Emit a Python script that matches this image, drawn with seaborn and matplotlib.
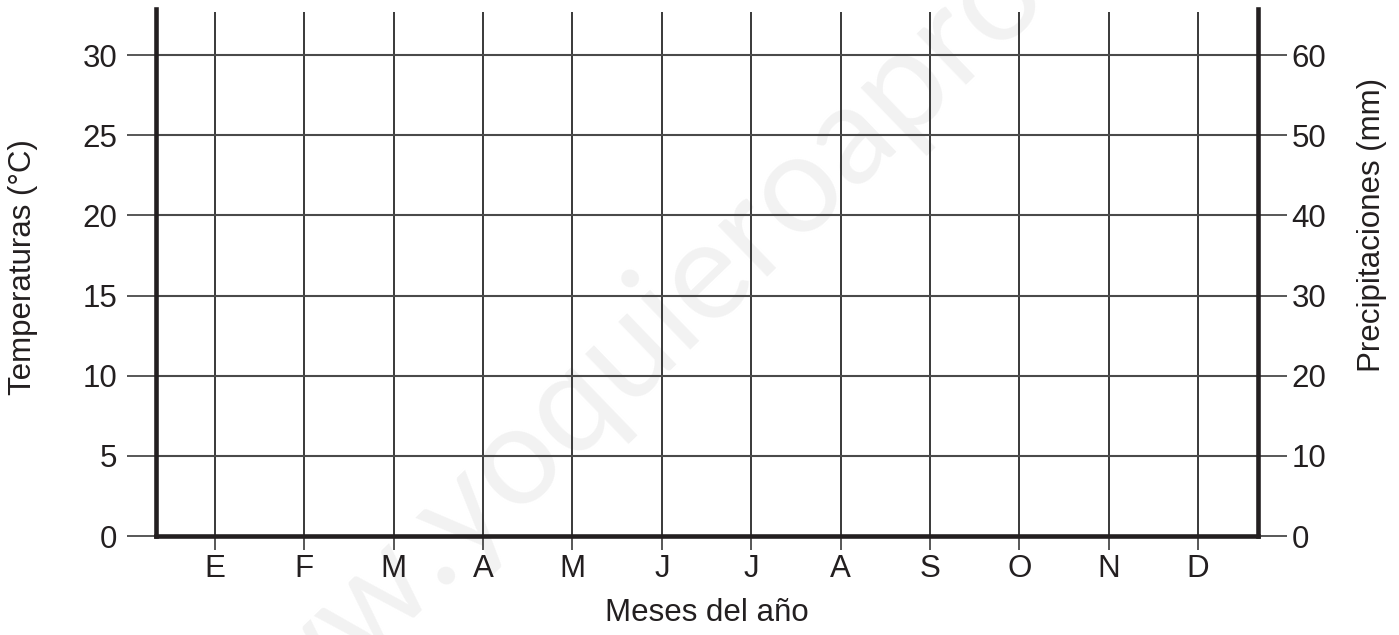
import matplotlib
matplotlib.use("Agg")
import matplotlib.pyplot as plt
import seaborn as sns

# Blank climograph template: months on x, temperature (left) and rainfall (right)
meses = ["E", "F", "M", "A", "M", "J", "J", "A", "S", "O", "N", "D"]
temp_ticks = [0, 5, 10, 15, 20, 25, 30]
prec_ticks = [0, 10, 20, 30, 40, 50, 60]
temp_max = 32.87
prec_max = 2 * temp_max

sns.set_theme(style="white")
plt.rcParams["font.family"] = ["Liberation Sans", "DejaVu Sans"]

ink = "#231f20"
grid_col = "#4a4a4a"
fs = 22.5

fig = plt.figure(figsize=(13.99, 6.35), dpi=100)
fig.patch.set_facecolor("white")
ax = fig.add_axes([156 / 1399, 1 - 536 / 635, (1258 - 156) / 1399, (536 - 9) / 635])
ax.set_facecolor("none")

x = list(range(len(meses)))
ax.set_xlim(-0.66, 11.67)
ax.set_ylim(0, temp_max)

# vertical month lines and horizontal temperature lines
ax.vlines(x, 0, 32.7, colors="#2a2a2a", linewidth=1.3, zorder=1)
ax.hlines(temp_ticks[1:], -0.66, 11.67, colors=grid_col, linewidth=1.5, zorder=1)

ax.set_xticks(x)
ax.set_xticklabels(meses)
ax.set_yticks(temp_ticks)
ax.tick_params(axis="x", direction="out", length=10, width=1.1, color="#2a2a2a",
               labelsize=fs, labelcolor=ink, pad=3, bottom=True)
ax.tick_params(axis="y", direction="out", length=21, width=1.3, color=grid_col,
               labelsize=fs, labelcolor=ink, pad=7, left=True)

for side in ["top", "right"]:
    ax.spines[side].set_visible(False)
for side in ["left", "bottom"]:
    ax.spines[side].set_linewidth(3.3)
    ax.spines[side].set_color(ink)
    ax.spines[side].set_zorder(3)

ax.set_xlabel("Meses del año", fontsize=fs, color=ink)
ax.xaxis.set_label_coords(0.5, -0.118)
ax.set_ylabel("Temperaturas (°C)", fontsize=fs, color=ink)
ax.yaxis.set_label_coords(-0.107, 0.51)

# right axis: precipitation
ax2 = ax.twinx()
ax2.set_facecolor("none")
ax2.set_ylim(0, prec_max)
ax2.set_yticks(prec_ticks)
ax2.tick_params(axis="y", direction="out", length=21, width=1.3, color=grid_col,
                labelsize=fs, labelcolor=ink, pad=3, right=True)
for side in ["top", "left", "bottom"]:
    ax2.spines[side].set_visible(False)
ax2.spines["right"].set_linewidth(3.3)
ax2.spines["right"].set_color(ink)
ax2.set_ylabel("Precipitaciones (mm)", fontsize=fs, color=ink)
ax2.yaxis.set_label_coords(1.0898, 0.59)
ax2.grid(False)
ax.grid(False)

# faint diagonal watermark behind the grid
fig.text(205 / 1399, 1 - 818 / 635, "www.yoquieroaprobar.es", fontsize=100,
         color="#f2f2f2", rotation=44, rotation_mode="anchor",
         ha="left", va="baseline", zorder=-1, family="Lato")

fig.savefig("out.png", dpi=100, facecolor="white")
